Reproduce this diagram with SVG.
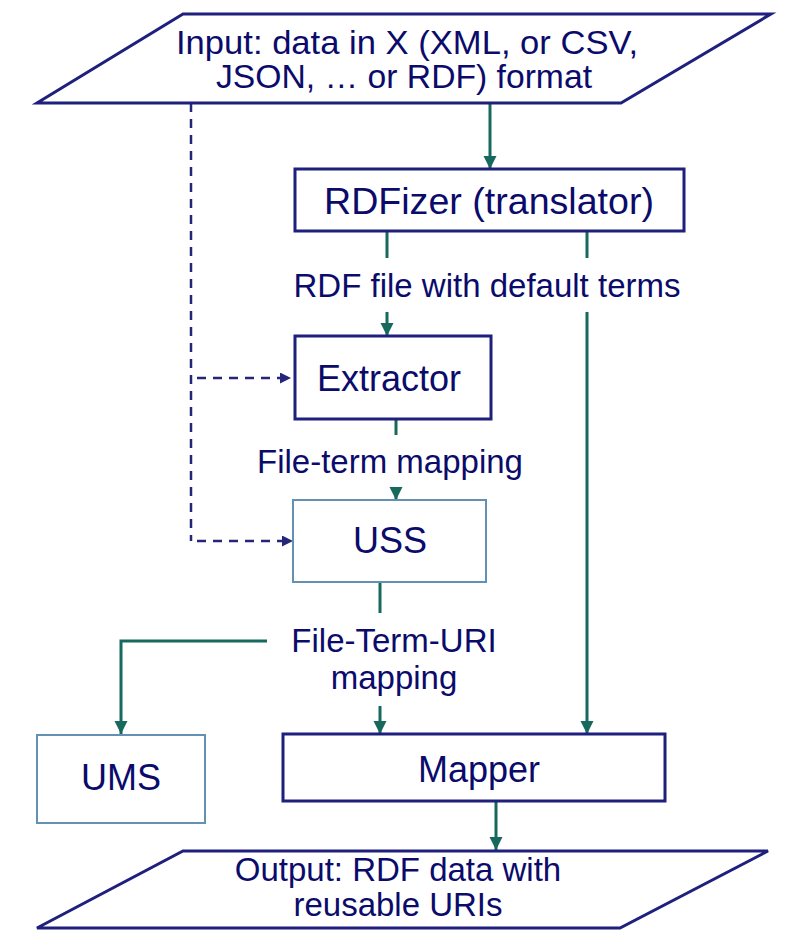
<svg xmlns="http://www.w3.org/2000/svg" width="794" height="950" viewBox="0 0 794 950">
<style>
  .box{fill:#ffffff;stroke:#1f1f7e;stroke-width:3}
  .lbox{fill:#ffffff;stroke:#6391b4;stroke-width:2}
  .t{font-family:"Liberation Sans",Arial,sans-serif;fill:#0b0b6b;text-anchor:middle}
  .big{font-size:36px}
  .lab{font-size:33px}
  .io{font-size:33px}
  .teal{fill:none;stroke:#16695c;stroke-width:3}
  .dash{fill:none;stroke:#25257a;stroke-width:2.5;stroke-dasharray:9 7}
</style>
<defs>
  <marker id="ah" markerUnits="userSpaceOnUse" markerWidth="14" markerHeight="14" refX="13" refY="6.5" orient="auto">
    <path d="M0,0 L13,6.5 L0,13 z" fill="#16695c"/>
  </marker>
  <marker id="ahd" markerUnits="userSpaceOnUse" markerWidth="12" markerHeight="12" refX="11" refY="5.5" orient="auto">
    <path d="M0,0 L11,5.5 L0,11 z" fill="#25257a"/>
  </marker>
</defs>
<g id="connectors">
  <path class="teal" d="M490,103 V169" marker-end="url(#ah)"/>
  <path class="teal" d="M387,231 V258"/>
  <path class="teal" d="M387,312 V336" marker-end="url(#ah)"/>
  <path class="teal" d="M587,231 V258"/>
  <path class="teal" d="M587,312 V734" marker-end="url(#ah)"/>
  <path class="teal" d="M396,419 V435"/>
  <path class="teal" d="M396,490 V500" marker-end="url(#ah)"/>
  <path class="teal" d="M380,582 V613"/>
  <path class="teal" d="M267,641 H121 V734" marker-end="url(#ah)"/>
  <path class="teal" d="M380,706 V734" marker-end="url(#ah)"/>
  <path class="teal" d="M496,801 V850" marker-end="url(#ah)"/>
  <path class="dash" d="M191,103 V541"/>
  <path class="dash" d="M197,378 H291" marker-end="url(#ahd)"/>
  <path class="dash" d="M197,541 H293" marker-end="url(#ahd)"/>
  <text class="t lab" x="487" y="297">RDF file with default terms</text>
  <text class="t lab" x="390" y="473">File-term mapping</text>
  <text class="t lab" x="394" y="652">File-Term-URI</text>
  <text class="t lab" x="394" y="689">mapping</text>
</g>
<g id="input">
  <polygon class="box" points="183,14 771,14 621,103 37,103"/>
  <text class="t io" x="407" y="54" textLength="462" lengthAdjust="spacingAndGlyphs">Input: data in X (XML, or CSV,</text>
  <text class="t io" x="404" y="88" textLength="376" lengthAdjust="spacingAndGlyphs">JSON, … or RDF) format</text>
</g>
<g id="rdfizer">
  <rect class="box" x="295" y="169" width="389" height="62"/>
  <text class="t big" x="489" y="214" textLength="330" lengthAdjust="spacingAndGlyphs">RDFizer (translator)</text>
</g>
<g id="extractor">
  <rect class="box" x="295" y="336" width="196" height="83"/>
  <text class="t big" x="389" y="391">Extractor</text>
</g>
<g id="uss">
  <rect class="lbox" x="293" y="500" width="193" height="82"/>
  <text class="t big" x="390" y="553">USS</text>
</g>
<g id="ums">
  <rect class="lbox" x="37" y="735" width="168" height="88"/>
  <text class="t big" x="121" y="790">UMS</text>
</g>
<g id="mapper">
  <rect class="box" x="283" y="734" width="382" height="67"/>
  <text class="t big" x="479" y="782">Mapper</text>
</g>
<g id="output">
  <polygon class="box" points="183,851 768,851 620,928 37,928"/>
  <text class="t lab" x="398" y="881">Output: RDF data with</text>
  <text class="t lab" x="398" y="916">reusable URIs</text>
</g>
</svg>
